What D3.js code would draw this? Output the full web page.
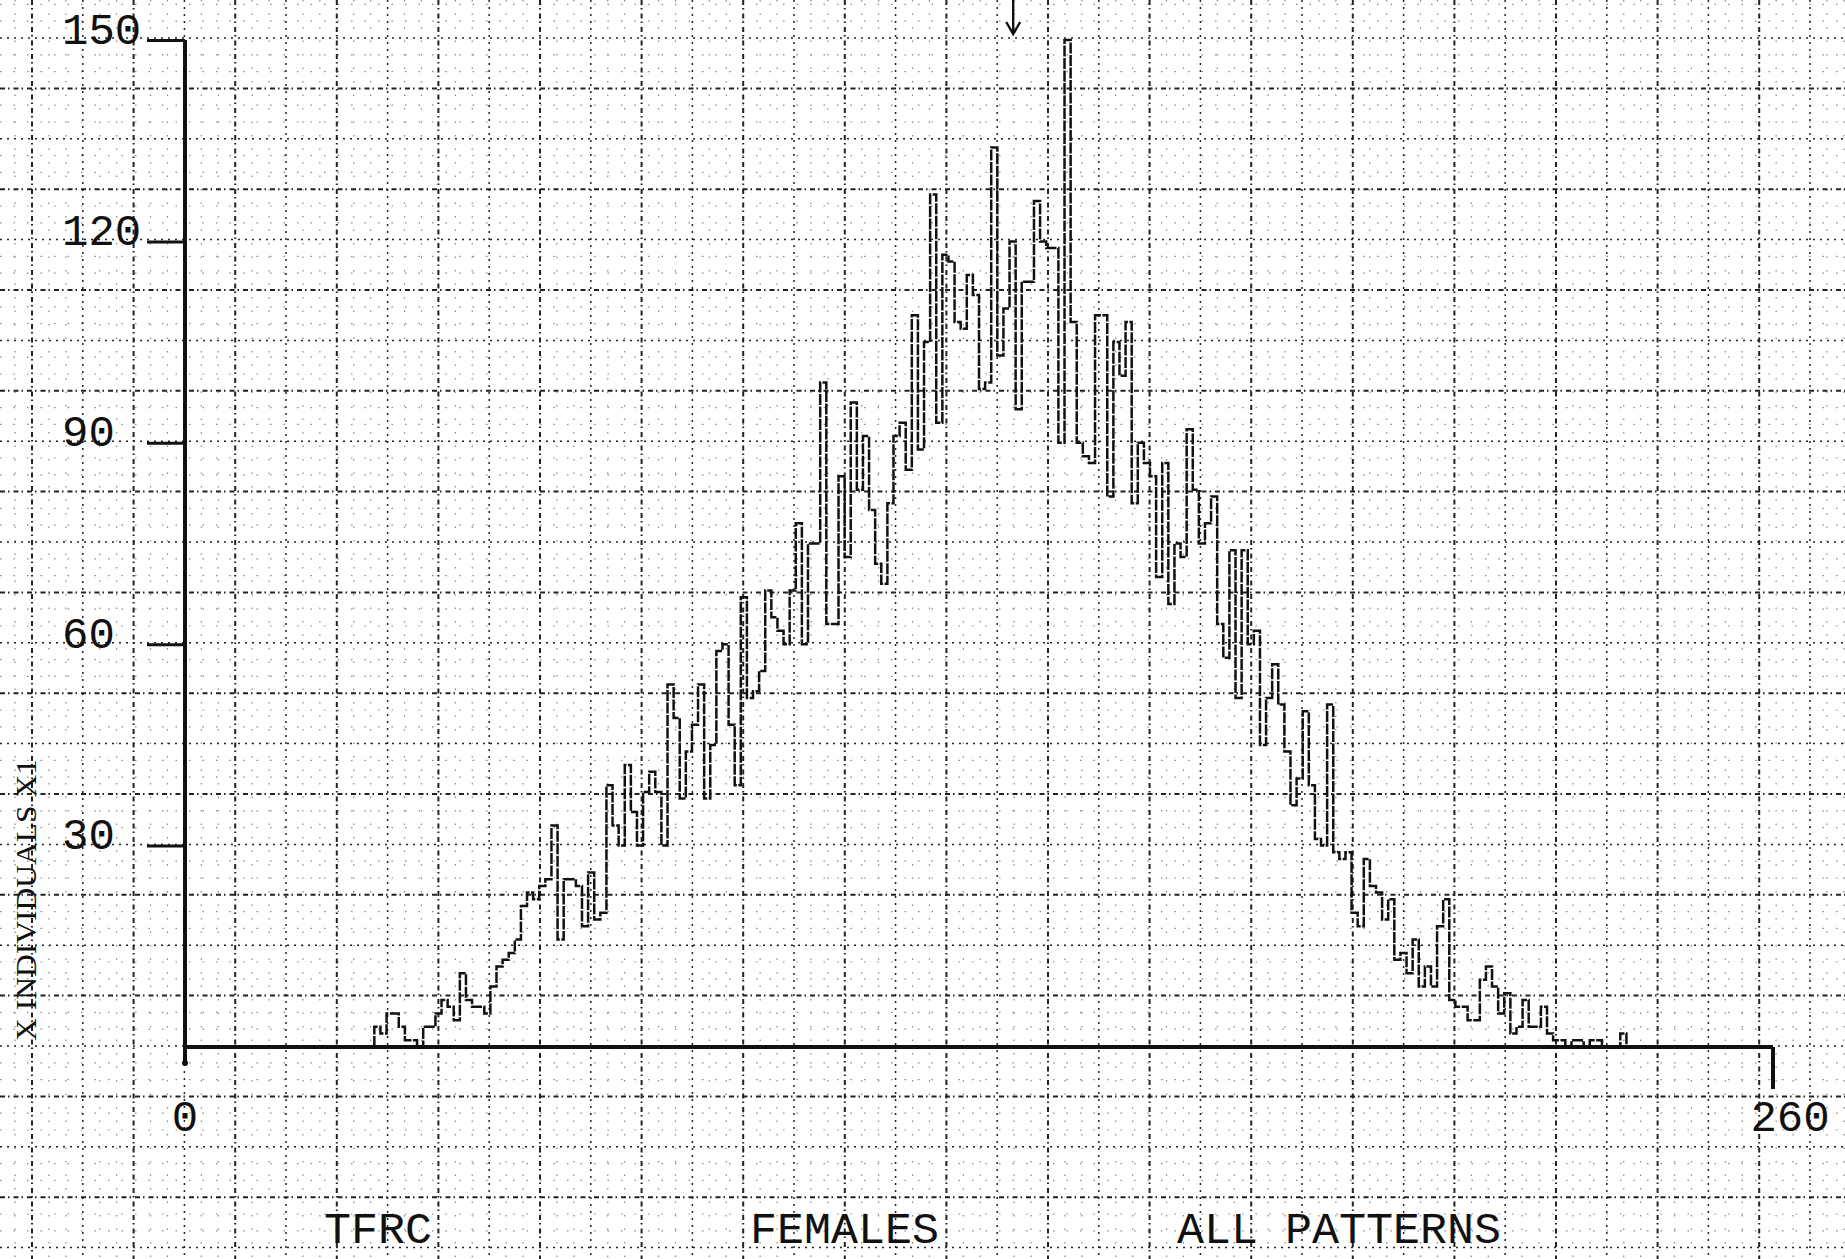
<!DOCTYPE html>
<html>
<head>
<meta charset="utf-8">
<script src="https://cdn.jsdelivr.net/npm/d3@7"></script>
<style>
  body { margin: 0; background: #fff; }
  svg { display: block; }
  .tick line { stroke: #111; stroke-width: 3; }
  .domain { display: none; }
</style>
</head>
<body>
<script>
// TFRC histogram, females, all patterns (counts per ridge-count value)
var binStart = 31;
var counts = [
  3, 2, 5, 5, 3, 1, 1, 0, 3, 3,
  5, 7, 6, 4, 11, 7, 6, 6, 5, 9,
  12, 13, 14, 16, 21, 23, 22, 24, 25, 33,
  16, 25, 25, 24, 18, 26, 19, 20, 39, 33,
  30, 42, 35, 30, 38, 41, 38, 30, 54, 49,
  37, 44, 48, 54, 37, 45, 59, 60, 48, 39,
  67, 52, 53, 56, 68, 64, 62, 60, 68, 78,
  60, 75, 75, 99, 63, 63, 85, 73, 96, 83,
  91, 80, 72, 69, 81, 91, 93, 86, 109, 89,
  105, 127, 93, 118, 117, 108, 107, 115, 112, 98,
  99, 134, 103, 110, 120, 95, 114, 114, 126, 120,
  119, 119, 90, 150, 108, 90, 88, 87, 109, 109,
  82, 105, 100, 108, 81, 90, 87, 85, 70, 87,
  66, 75, 73, 92, 83, 75, 78, 82, 63, 58,
  74, 52, 74, 60, 62, 45, 52, 57, 51, 44,
  36, 40, 50, 39, 31, 30, 51, 29, 28, 29,
  20, 18, 28, 24, 23, 19, 22, 13, 14, 11,
  16, 9, 12, 9, 18, 22, 7, 6, 6, 4,
  4, 10, 12, 9, 5, 8, 2, 3, 7, 3,
  3, 6, 2, 1, 1, 0, 1, 1, 0, 1,
  1, 0, 0, 0, 2
];
var yTicks = [30, 60, 90, 120, 150];
var xTickLabels = ["0", "260"];
var xTickValues = [0, 260];
var meanMark = 135.6;
var bottomLabels = ["TFRC", "FEMALES", "ALL PATTERNS"];
var yTitle = "X INDIVIDUALS X1";

var W = 1845, H = 1259;

var svg = d3.select("body").append("svg")
    .attr("width", W).attr("height", H);

svg.append("rect").attr("width", W).attr("height", H).attr("fill", "#fff");

// graph paper
var paper = svg.append("g").attr("class", "paper");
var cellX = 50.8, cellY = 50.4, x0 = 32, y0 = 38;
var vLines = d3.range(-1, 37).map(function(i){ return x0 + i * cellX; });
var hLines = d3.range(-1, 26).map(function(j){ return y0 + j * cellY; });

// faint third lines
vLines.forEach(function(px){
  [1, 2].forEach(function(t){
    paper.append("line")
      .attr("x1", px + t * cellX / 3).attr("x2", px + t * cellX / 3)
      .attr("y1", 0).attr("y2", H)
      .attr("stroke", "#888").attr("stroke-width", 1.2)
      .attr("stroke-dasharray", "1.5,12");
  });
});
hLines.forEach(function(py){
  [1, 2].forEach(function(t){
    paper.append("line")
      .attr("y1", py + t * cellY / 3).attr("y2", py + t * cellY / 3)
      .attr("x1", 0).attr("x2", W)
      .attr("stroke", "#888").attr("stroke-width", 1.2)
      .attr("stroke-dasharray", "1.5,12");
  });
});
vLines.forEach(function(px, i){
  paper.append("line")
    .attr("x1", px).attr("x2", px).attr("y1", 0).attr("y2", H)
    .attr("stroke", "#222")
    .attr("stroke-width", i % 2 ? 2 : 1.5)
    .attr("stroke-dasharray", i % 2 ? "5,3,1.5,4" : "2,5");
});
hLines.forEach(function(py, j){
  paper.append("line")
    .attr("y1", py).attr("y2", py).attr("x1", 0).attr("x2", W)
    .attr("stroke", "#222")
    .attr("stroke-width", j % 2 ? 1.5 : 2)
    .attr("stroke-dasharray", j % 2 ? "2,5" : "5,3,1.5,4");
});

var x = d3.scaleLinear().domain([0, 260]).range([185, 1773]);
var y = d3.scaleLinear().domain([0, 150]).range([1047, 40]);

// y axis
var yAxis = d3.axisLeft(y).tickValues(yTicks).tickSize(38).tickPadding(0);
var gy = svg.append("g").attr("transform", "translate(" + x(0) + ",0)").call(yAxis);
gy.selectAll("text")
  .attr("x", 62 - x(0))
  .attr("dy", "3px")
  .style("text-anchor", "start")
  .style("font-family", "Liberation Mono, monospace")
  .style("font-size", "44px")
  .style("fill", "#111");

svg.append("line")
  .attr("x1", x(0)).attr("x2", x(0))
  .attr("y1", y(150)).attr("y2", y(0) + 14)
  .attr("stroke", "#111").attr("stroke-width", 4);
svg.append("circle").attr("cx", x(0)).attr("cy", y(0) + 16).attr("r", 3).attr("fill", "#111");

// x axis
svg.append("line")
  .attr("x1", x(0)).attr("x2", x(260))
  .attr("y1", y(0)).attr("y2", y(0))
  .attr("stroke", "#111").attr("stroke-width", 4);
svg.append("line")
  .attr("x1", x(260)).attr("x2", x(260))
  .attr("y1", y(0)).attr("y2", y(0) + 42)
  .attr("stroke", "#111").attr("stroke-width", 4);

var labelShift = [0, 17];
svg.selectAll(".xlab").data(xTickValues).enter().append("text")
  .attr("class", "xlab")
  .attr("x", function(d, i){ return x(d) + labelShift[i]; })
  .attr("y", 1131)
  .attr("text-anchor", "middle")
  .style("font-family", "Liberation Mono, monospace")
  .style("font-size", "44px")
  .style("fill", "#111")
  .text(function(d, i){ return xTickLabels[i]; });

// histogram outline
var pts = [{k: binStart, v: 0}];
counts.forEach(function(v, i){ pts.push({k: binStart + i, v: v}); });
pts.push({k: binStart + counts.length, v: 0});

var line = d3.line()
  .x(function(d){ return x(d.k); })
  .y(function(d){ return y(d.v); })
  .curve(d3.curveStepAfter);

svg.append("path")
  .attr("d", line(pts))
  .attr("fill", "none")
  .attr("stroke", "#111")
  .attr("stroke-width", 2.5)
  .attr("stroke-dasharray", "11,1.5")
  .attr("stroke-linejoin", "miter");

// mean arrow
var ax = x(meanMark);
svg.append("path")
  .attr("d", "M" + ax + ",0 L" + ax + ",34 M" + (ax - 7) + ",22 L" + ax + ",34 L" + (ax + 7) + ",22")
  .attr("fill", "none").attr("stroke", "#111").attr("stroke-width", 2.4);

// y title
svg.append("text")
  .attr("transform", "translate(36,900) rotate(-90)")
  .attr("text-anchor", "middle")
  .attr("textLength", 282)
  .attr("lengthAdjust", "spacingAndGlyphs")
  .style("font-family", "Liberation Serif, serif")
  .style("font-size", "30px")
  .style("fill", "#111")
  .text(yTitle);

// bottom captions
var capX = [324, 750, 1177];
svg.selectAll(".cap").data(bottomLabels).enter().append("text")
  .attr("class", "cap")
  .attr("x", function(d, i){ return capX[i]; })
  .attr("y", 1243)
  .style("font-family", "Liberation Mono, monospace")
  .style("font-size", "45px")
  .style("fill", "#111")
  .text(function(d){ return d; });
</script>
</body>
</html>
